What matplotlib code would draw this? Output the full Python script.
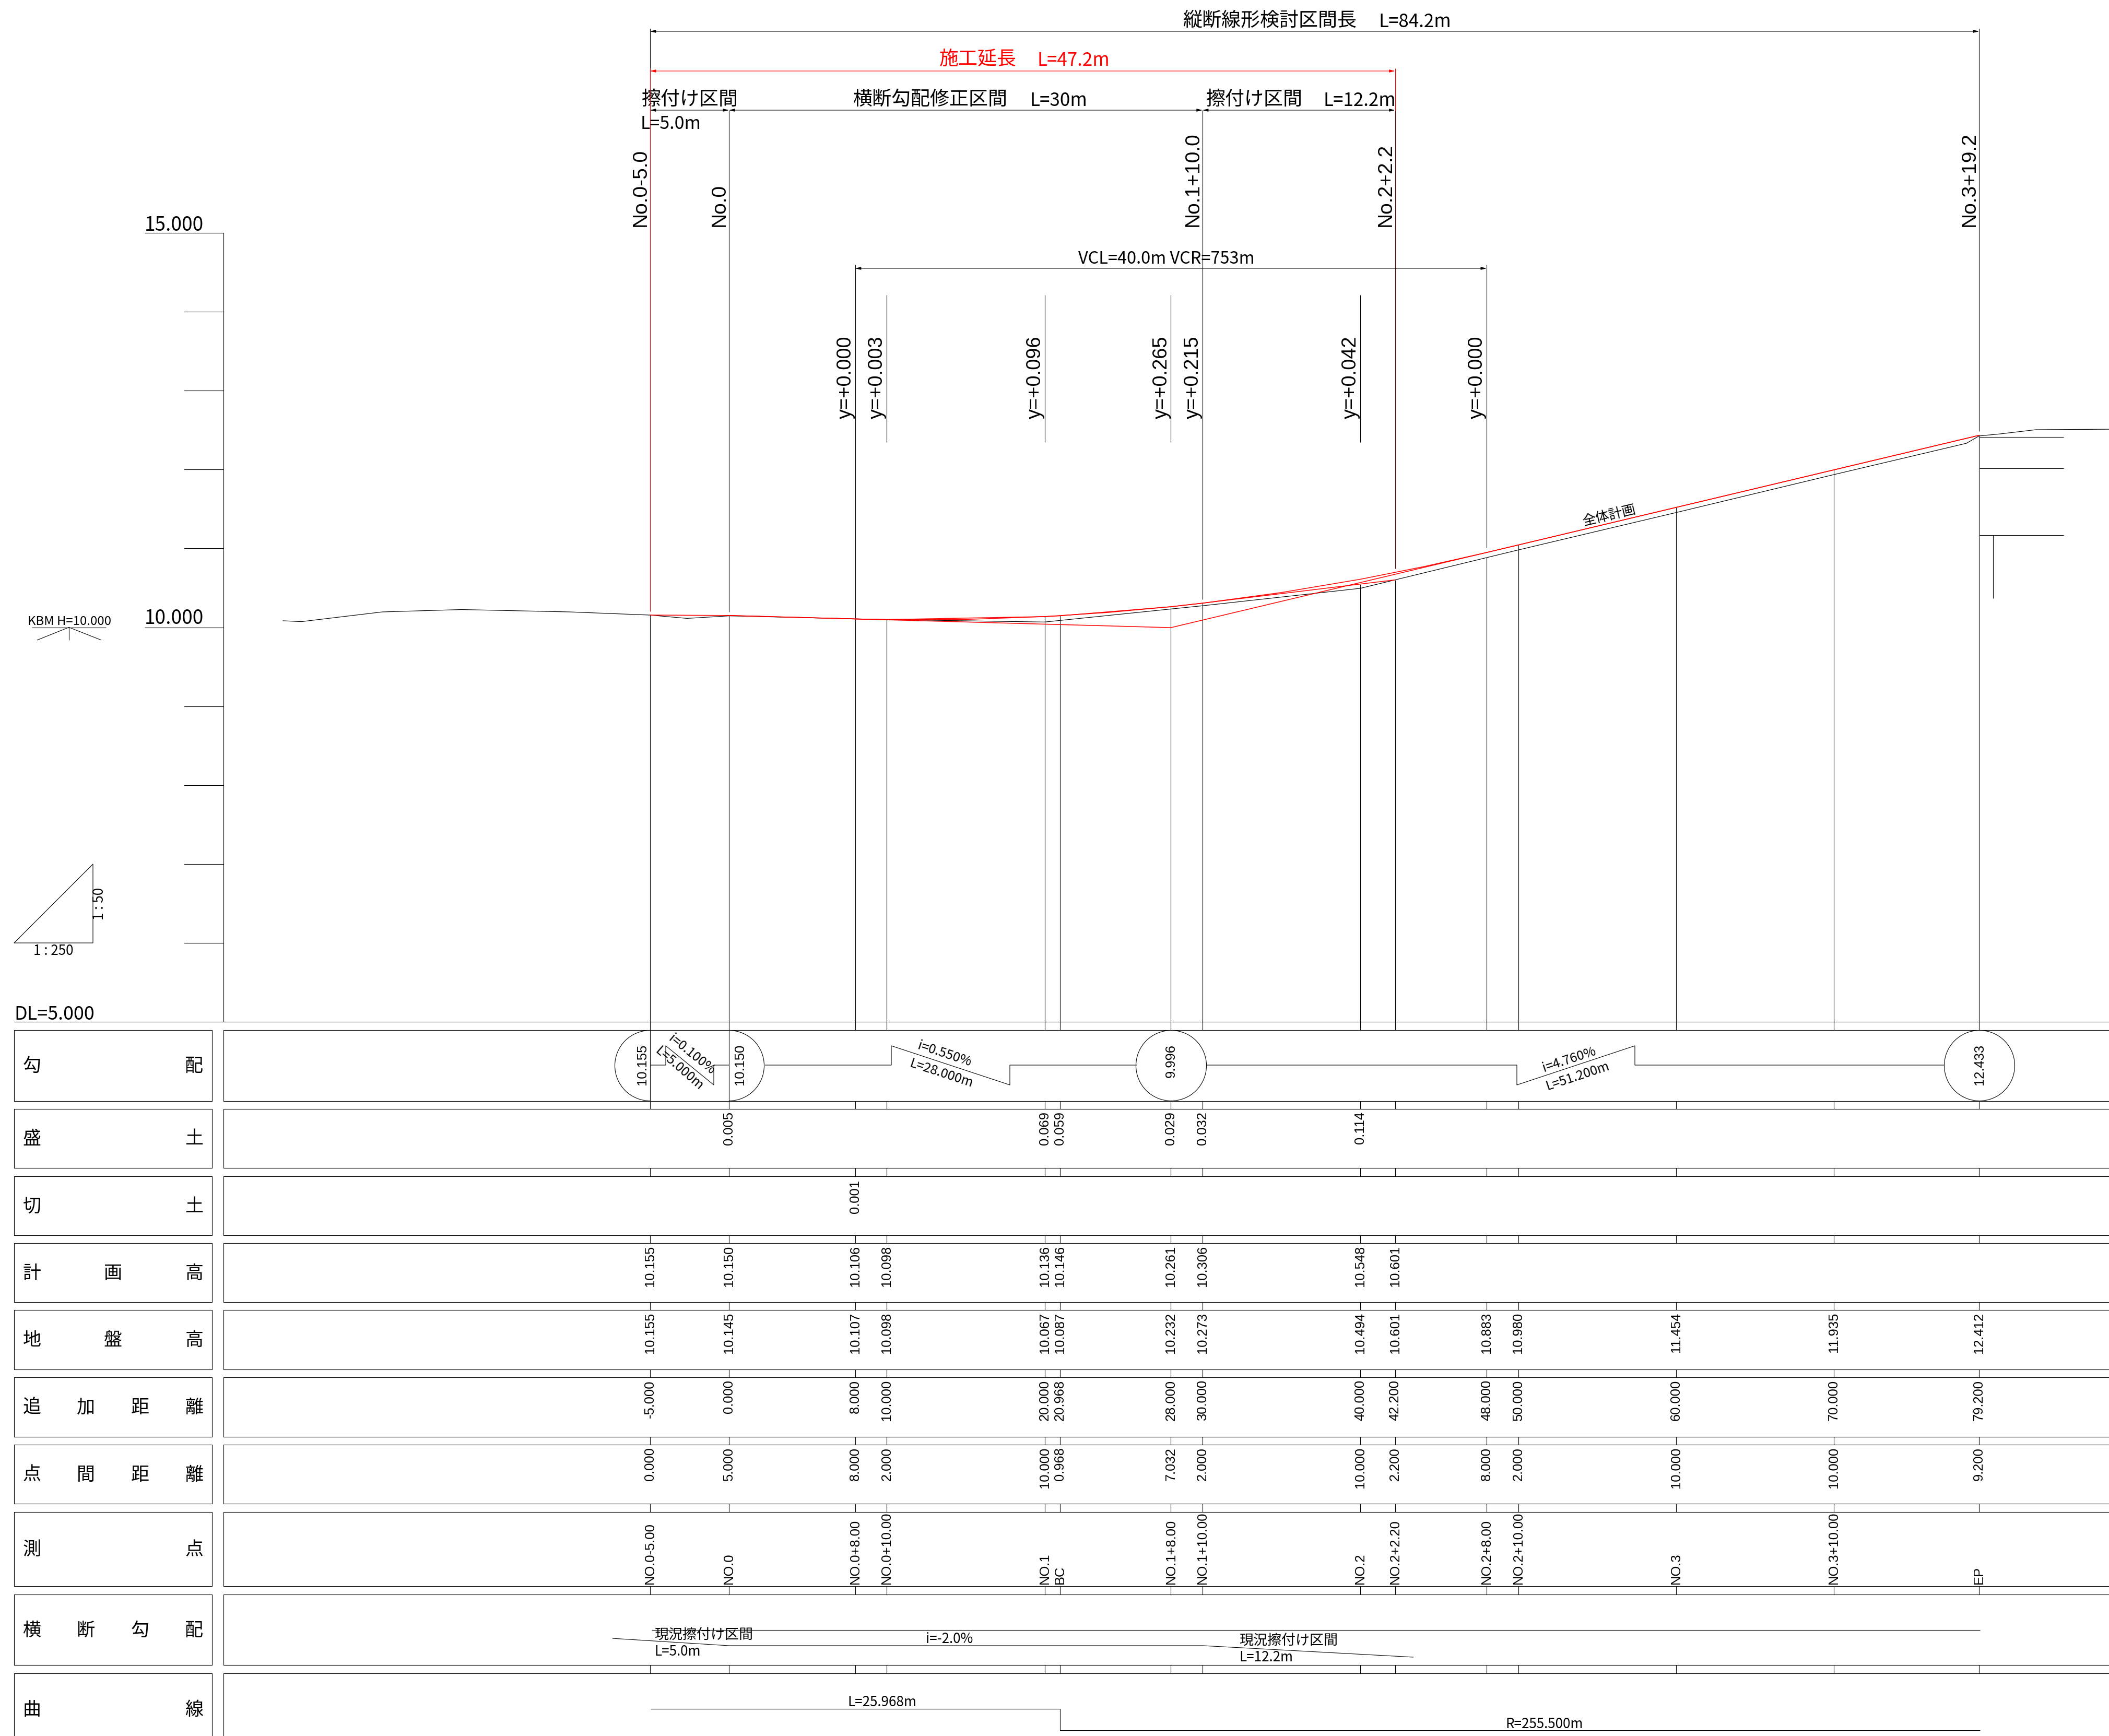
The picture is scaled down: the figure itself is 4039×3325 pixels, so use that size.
import matplotlib
matplotlib.use('Agg')
from matplotlib import pyplot as plt
from matplotlib.patches import Arc, Circle
from matplotlib.transforms import blended_transform_factory

plt.rcParams['font.family'] = ['Noto Sans CJK JP', 'DejaVu Sans']
ARIAL = ['Liberation Sans', 'Noto Sans CJK JP', 'DejaVu Sans']

W, H = 4039, 3325

# stations (m) of every column
stations = [-5, 0, 8, 10, 20, 20.968, 28, 30, 40, 42.2, 48, 50, 60, 70, 79.2]

# ground line
ground_st = [-28.25, -27.09, -21.96, -16.94, -10.09, -5, -2.65, 0, 8, 10, 20, 20.968, 28, 30, 40,
             42.2, 48, 50, 60, 70, 78.4, 79.2, 80.5, 82.8, 87.5]
ground_h = [10.083, 10.072, 10.195, 10.225, 10.195, 10.155, 10.113, 10.145, 10.107, 10.098, 10.067,
            10.087, 10.232, 10.273, 10.494, 10.601, 10.883, 10.980, 11.454, 11.935, 12.332, 12.425,
            12.45, 12.504, 12.51]

# construction plan (red)
plan_st = [-5, 0, 8, 10, 20, 20.968, 28, 30, 40, 42.2]
plan_h = [10.155, 10.150, 10.106, 10.098, 10.136, 10.146, 10.261, 10.306, 10.548, 10.601]

# overall plan, vertical curve (red)
curve_st = [8, 10, 15, 20, 24, 28, 30, 35, 40, 44, 48, 50, 60, 70, 79.2]
curve_h = [10.106, 10.098, 10.10, 10.136, 10.188, 10.261, 10.306, 10.441, 10.609, 10.768, 10.948,
           11.043, 11.519, 11.995, 12.433]

# grade line (red)
grade_st = [0, 28, 79.2]
grade_h = [10.150, 9.996, 12.433]

# top of the lower verticals
column_top = [10.155, 10.150, 10.106, 10.098, 10.136, 10.146, 10.261, 10.306, 10.548, 10.601,
              10.883, 11.043, 11.519, 11.995, 12.433]

elev_ticks = [6, 7, 8, 9, 10, 11, 12, 13, 14, 15]

# labels above the profile
no_st = [-5, 0, 30, 42.2, 79.2]
no_labels = ['No.0-5.0', 'No.0', 'No.1+10.0', 'No.2+2.2', 'No.3+19.2']
y_st = [8, 10, 20, 28, 30, 40, 48]
y_labels = ['y=+0.000', 'y=+0.003', 'y=+0.096', 'y=+0.265', 'y=+0.215', 'y=+0.042', 'y=+0.000']

# table rows
row_names = [['勾', '配'], ['盛', '土'], ['切', '土'], ['計', '画', '高'], ['地', '盤', '高'],
             ['追', '加', '距', '離'], ['点', '間', '距', '離'], ['測', '点'],
             ['横', '断', '勾', '配'], ['曲', '線']]
fill_st = [0, 20, 20.968, 28, 30, 40]
fill_vals = ['0.005', '0.069', '0.059', '0.029', '0.032', '0.114']
cut_st = [8]
cut_vals = ['0.001']
plan_vals = ['10.155', '10.150', '10.106', '10.098', '10.136', '10.146', '10.261', '10.306', '10.548', '10.601']
ground_vals = ['10.155', '10.145', '10.107', '10.098', '10.067', '10.087', '10.232', '10.273', '10.494',
               '10.601', '10.883', '10.980', '11.454', '11.935', '12.412']
add_vals = ['-5.000', '0.000', '8.000', '10.000', '20.000', '20.968', '28.000', '30.000', '40.000',
            '42.200', '48.000', '50.000', '60.000', '70.000', '79.200']
pitch_vals = ['0.000', '5.000', '8.000', '2.000', '10.000', '0.968', '7.032', '2.000', '10.000',
              '2.200', '8.000', '2.000', '10.000', '10.000', '9.200']
point_vals = ['NO.0-5.00', 'NO.0', 'NO.0+8.00', 'NO.0+10.00', 'NO.1', 'BC', 'NO.1+8.00', 'NO.1+10.00',
              'NO.2', 'NO.2+2.20', 'NO.2+8.00', 'NO.2+10.00', 'NO.3', 'NO.3+10.00', 'EP']

# pixel layout of the sheet
PX_M = 30.23
PX_H = 151.15
row_top = [1973, 2124, 2253, 2381, 2509, 2638, 2767, 2896, 3054, 3205]
row_bot = [2109, 2237, 2366, 2494, 2623, 2752, 2880, 3038, 3189, 3340]
BASE_Y = 1957
AX_X = 428
LW = 0.8

fig = plt.figure(figsize=(W / 100, H / 100), dpi=100)
page = fig.add_axes([0, 0, 1, 1])
page.set_xlim(0, W)
page.set_ylim(H, 0)
page.axis('off')
prof = fig.add_axes([0, 0, 1, 1])
prof.set_xlim((0 - 1396) / PX_M, (W - 1396) / PX_M)
prof.set_ylim(10 - (H - 1201.5) / PX_H, 10 + 1201.5 / PX_H)
prof.axis('off')
prof.patch.set_alpha(0)
# x in metres, y in sheet pixels
col = blended_transform_factory(prof.transData, page.transData)
# y in metres, x in sheet pixels
lev = blended_transform_factory(page.transData, prof.transData)


def label(x, y, s, px, color='black', ha='left', va='baseline', rot=0, family=None):
    t = page.text(x, y, s, fontsize=px * 0.72, color=color, ha=ha, va=va, rotation=rot,
                  rotation_mode='anchor' if rot not in (0, 90) else 'default')
    if family:
        t.set_family(family)


def line(xs, ys, color='black', lw=LW):
    page.plot(xs, ys, color=color, lw=lw, solid_capstyle='butt')


def vline(st, y0, y1, color='black', lw=LW):
    prof.plot([st, st], [y0, y1], color=color, lw=lw, transform=col, solid_capstyle='butt')


def dim(st0, st1, y, color='black'):
    prof.annotate('', xy=(st1, y), xytext=(st0, y), xycoords=col, textcoords=col,
                  arrowprops=dict(arrowstyle='<|-|>,head_length=0.4,head_width=0.1', color=color, lw=0.75,
                                  shrinkA=0, shrinkB=0, mutation_scale=16))


# elevation scale
line([AX_X, AX_X], [446, BASE_Y])
for t in elev_ticks:
    x0 = 277 if t in (10, 15) else 352
    prof.plot([x0, AX_X], [t, t], color='black', lw=LW, transform=lev, solid_capstyle='butt')
label(277, 442, '15.000', 37)
label(277, 1195, '10.000', 37)
label(27, 1953, 'DL=5.000', 36)
line([27, W], [BASE_Y, BASE_Y])

# KBM mark
label(53, 1197, 'KBM H=10.000', 24)
line([61, 203], [1201.5, 1201.5])
line([71, 132, 194], [1226, 1201.5, 1226])
line([132, 132], [1201.5, 1226])

# scale triangle
line([27, 178, 178, 27], [1806, 1655, 1806, 1806])
label(64, 1829, '1 : 250', 26)
label(204, 1762, '1 : 50', 26, ha='right', va='bottom', rot=90)

# verticals
for st, top in zip(stations, column_top):
    prof.plot([st, st], [10 - (BASE_Y - 1201.5) / PX_H, top], color='black', lw=LW, solid_capstyle='butt')
    for i in range(len(row_top) - 1):
        vline(st, row_bot[i], row_top[i + 1])
    vline(st, BASE_Y, row_top[0])
vline(-5, 55, 131)
vline(0, 211, 1172)
vline(8, 507, 1190)
vline(30, 211, 1148)
vline(42.2, 211, 1089, color='#5a0000')
vline(42.2, 131, 211, color='red')
vline(48, 507, 1049)
vline(79.2, 55, 826)
vline(-5, 131, 1171, color='#e00000')
for st in [10, 20, 28, 40]:
    vline(st, 565, 847)
vline(-5, row_top[0], row_bot[0])
vline(0, row_top[0], row_bot[0])

# profile
prof.plot(ground_st, ground_h, color='black', lw=0.85)
prof.plot(grade_st, grade_h, color='red', lw=1.1)
prof.plot(curve_st, curve_h, color='red', lw=1.1)
prof.plot(plan_st, plan_h, color='red', lw=1.1)

# right end structure
line([3791, 3952], [837, 837])
line([3791, 3952], [897, 897])
line([3791, 3952], [1025, 1025])
line([3817, 3817], [1025, 1146])

label(3081, 988, '全体計画', 26, ha='center', va='center', rot=13.4)

# dimensions
dim(-5, 79.2, 60)
dim(-5, 42.2, 136, color='red')
dim(-5, 0, 211)
dim(0, 30, 211)
dim(30, 42.2, 211)
dim(8, 48, 514)
label(2265, 50, '縦断線形検討区間長', 37)
label(2641, 52, 'L=84.2m', 35)
label(1799, 124, '施工延長', 37, color='red')
label(1987, 126, 'L=47.2m', 35, color='red')
label(1228, 201, '擦付け区間', 37)
label(1633, 201, '横断勾配修正区間', 37)
label(1973, 203, 'L=30m', 35)
label(2309, 201, '擦付け区間', 37)
label(2534, 203, 'L=12.2m', 35)
label(1227, 247, 'L=5.0m', 34)
label(2065, 505, 'VCL=40.0m VCR=753m', 32.5)

for st, s in zip(no_st, no_labels):
    prof.text(st, 434, s, transform=col, fontsize=39 * 0.72, rotation=90, ha='right', va='bottom', family=ARIAL)
for st, s in zip(y_st, y_labels):
    prof.text(st, 802, s, transform=col, fontsize=38 * 0.72, rotation=90, ha='right', va='bottom', family=ARIAL)

# table frames
for i, names in enumerate(row_names):
    t, b = row_top[i], row_bot[i]
    line([27, 406, 406, 27, 27], [t, t, b, b, t])
    line([W, AX_X, AX_X, W], [t, t, b, b])
    yc = (t + b) / 2 + 1 if i < 9 else 3275
    if len(names) == 2:
        xs = [61, 372]
    elif len(names) == 3:
        xs = [61, 216, 372]
    else:
        xs = [61, 164, 268, 372]
    for x, c in zip(xs, names):
        label(x, yc, c, 35, ha='center', va='center')


def column_text(sts, vals, y, va='top'):
    for st, s in zip(sts, vals):
        prof.text(st, y, s, transform=col, fontsize=25.5 * 0.72, rotation=90, ha='center', va=va, family=ARIAL)


column_text(fill_st, fill_vals, row_top[1] + 5)
column_text(cut_st, cut_vals, row_top[2] + 7)
column_text(plan_st, plan_vals, row_top[3] + 5)
column_text(stations, ground_vals, row_top[4] + 5)
column_text(stations, add_vals, row_top[5] + 5)
column_text(stations, pitch_vals, row_top[6] + 5)
column_text(stations, point_vals, row_bot[7] - 4, va='bottom')

# grade row
GY = 2040
line([1245, 1275, 1275, 1367, 1367, 1397], [GY, GY, 2003, 2078, GY, GY])
line([1465, 1707, 1707, 1934, 1934, 2177], [GY, GY, 2003, 2078, GY, GY])
line([2311, 2905, 2905, 3131, 3131, 3724], [GY, GY, 2078, 2003, GY, GY])
page.add_patch(Arc((1245, 2041), 135, 135, theta1=90, theta2=270, color='black', lw=LW))
page.add_patch(Arc((1396, 2041), 135, 135, theta1=270, theta2=450, color='black', lw=LW))
page.add_patch(Circle((2243, 2041), 67.5, fill=False, color='black', lw=LW))
page.add_patch(Circle((3791, 2041), 67.5, fill=False, color='black', lw=LW))
label(1242, 2000, '10.155', 25.5, ha='right', va='top', rot=90, family=ARIAL)
label(1405, 2000, '10.150', 25.5, ha='left', va='top', rot=90, family=ARIAL)
label(2243, 2000, '9.996', 25.5, ha='center', va='top', rot=90, family=ARIAL)
label(3791, 2000, '12.433', 25.5, ha='center', va='top', rot=90, family=ARIAL)
label(1325, 2020, 'i=0.100%', 25, ha='center', va='center', rot=-39)
label(1301, 2047, 'L=5.000m', 25, ha='center', va='center', rot=-41)
label(1809, 2019, 'i=0.550%', 25, ha='center', va='center', rot=-18.3)
label(1803, 2056, 'L=28.000m', 25, ha='center', va='center', rot=-18.3)
label(3005, 2030, 'i=4.760%', 25, ha='center', va='center', rot=18.4)
label(3021, 2061, 'L=51.200m', 25, ha='center', va='center', rot=18.4)

# cross slope row
line([1248, 3792], [3122, 3122])
line([1173, 1396, 2304, 2707], [3138, 3152, 3152, 3174])
label(1253, 3140, '現況擦付け区間', 27)
label(1253, 3171, 'L=5.0m', 26)
label(1773, 3147, 'i=-2.0%', 26)
label(2373, 3151, '現況擦付け区間', 27)
label(2373, 3182, 'L=12.2m', 26)

# curve row
line([1246, 2030, 2030, 3792], [3273, 3273, 3314, 3314])
label(1623, 3268, 'L=25.968m', 26)
label(2883, 3310, 'R=255.500m', 26)

fig.savefig('out.png', dpi=100)
